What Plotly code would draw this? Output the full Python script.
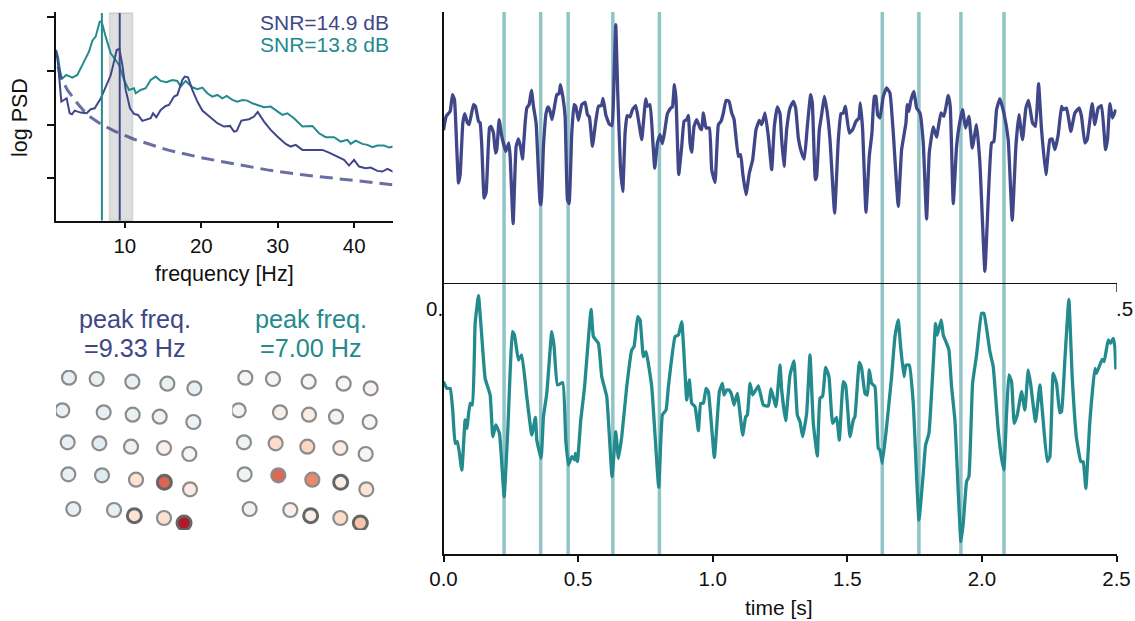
import plotly.graph_objects as go

PURPLE = "#404788"
TEAL = "#238A8D"
FONT = "Liberation Sans"
W, H = 1135, 621

# --- spectra: bin index (DF Hz per bin) and log power in arbitrary units
DF = 1 / 22.94
psd1_bins = [0,6,16,24,32,41,48,56,74,92,104,116,134,146,164,174,182,190,199,209,222,234,246,259,274,284,291,301,314,329,339,354,364,379,386,396,409,424,439,459,484,504,522,534,542,556,579,594,605,624,644,664,689,704,719,739,759,779,799,819,844,864,879,894,909,929,944,964,979,994,1012]
psd1_vals = [385,345,230,235,240,195,192,203,197,195,207,210,239,267,309,350,385,388,340,265,210,193,190,172,177,180,195,183,205,217,220,245,250,295,305,303,265,230,203,185,165,155,157,140,142,173,177,185,199,170,145,125,103,95,100,85,85,83,85,77,65,55,38,55,35,30,32,22,20,28,19]
psd2_bins = [0,6,16,31,49,64,84,99,109,119,131,137,149,164,179,189,204,219,234,239,254,269,284,299,314,331,349,364,374,389,409,424,439,454,469,484,499,512,529,544,559,574,589,604,624,644,659,679,694,714,739,769,789,809,834,854,874,884,899,919,934,949,964,984,999,1012]
psd2_vals = [385,365,297,310,302,310,350,380,413,425,470,470,425,375,355,340,295,265,270,255,265,270,295,305,292,288,295,292,275,292,273,267,272,255,245,250,240,247,235,230,235,233,225,220,213,215,205,190,195,180,155,157,135,123,123,110,115,103,113,103,100,93,98,98,92,95]
fit_bins = [6,16,34,64,94,134,174,234,334,434,534,634,734,834,934,1012]
fit_vals = [335,300,265,225,190,163,142,117,85,62,43,25,11,0,-12,-20]
peak_freqs = [9.33, 7.00]
alpha_band = [8, 11]
freq_ticks = [10, 20, 30, 40]
psd_ticks = [0, 161, 322, 483]

# --- time series: sample index (SFREQ Hz) and amplitude
SFREQ = 808
sig1_n = [0,8,20,27,33,40,45,50,58,64,72,77,90,96,105,110,115,122,128,138,143,150,156,160,167,175,187,196,200,209,218,225,232,237,245,250,257,264,270,278,290,293,300,308,314,320,326,335,340,347,351,358,365,372,377,385,392,397,405,415,425,432,438,447,457,465,474,479,487,497,506,512,517,523,531,538,545,551,560,567,577,585,595,600,607,612,620,628,634,642,650,657,664,672,682,687,693,698,706,715,722,730,735,740,745,752,760,770,775,780,788,798,805,815,825,833,840,848,857,865,872,885,892,898,908,918,928,938,948,955,965,975,985,993,1002,1010,
1015,1022,1030,1040,1050,1057,1065,1075,1083,1092,1102,1107,1116,1120,1128,1135,1143,1152,1160,1174,1185,1193,1200,1206,1218,1228,1238,1247,1251,1258,1268,1278,1286,1293,1298,1303,1310,1320,1330,1340,1350,1365,1375,1388,1392,1397,1402,1412,1420,1430,1440,1450,1458,1470,1480,1493,1502,1515,1521,1530,1540,1550,1558,1567,1577,1587,1600,1610,1625,1635,1645,1652,1660,1670,1682,1695,1707,1718,1727,1738,1748,1756,1768,1777,1786,1795,1808,1820,1827,1835,1845,1855,1860,1870,1883,1895,1908,1915,1925,1932,1947,1955,1965,1975,1987,1993,2000,2008,2018]
sig1_v = [458,500,515,565,550,400,300,325,480,508,480,475,535,530,485,480,410,255,272,465,470,450,390,400,490,440,395,420,380,178,410,432,405,372,480,525,535,578,530,480,240,235,410,510,528,515,490,540,565,568,595,560,500,250,238,450,535,530,488,535,542,505,498,410,485,530,532,554,505,478,472,620,775,570,350,275,450,502,498,520,532,490,430,480,552,530,535,430,345,420,445,418,455,508,525,528,595,550,325,410,485,490,503,420,392,470,490,465,460,510,465,465,340,302,475,485,510,548,545,510,492,380,385,330,265,330,370,460,488,475,510,440,340,470,528,508,
430,350,460,525,545,525,435,390,372,470,565,540,310,320,460,505,560,510,430,210,430,508,510,530,450,460,485,495,540,460,212,380,450,560,560,505,495,560,585,570,450,230,400,480,535,515,545,575,525,510,420,192,390,468,438,510,500,563,530,238,410,485,520,465,500,405,475,360,35,250,420,425,520,553,510,430,188,410,505,430,525,548,480,470,598,460,325,430,432,400,445,530,520,525,455,510,525,500,420,430,538,475,525,532,400,430,538,495,520]

sig2_n = [0,10,20,28,35,42,55,65,70,80,87,95,105,115,125,140,148,157,168,182,193,207,213,225,235,250,265,276,280,293,300,310,325,332,342,358,367,375,385,394,396,402,412,423,443,450,465,475,490,506,517,525,535,550,565,572,583,590,600,608,625,646,657,668,675,695,705,715,725,730,738,745,755,765,772,780,788,795,813,828,837,842,850,857,865,872,882,898,907,912,920,928,945,960,975,983,998,1010,
1015,1027,1040,1052,1062,1070,1078,1090,1100,1110,1122,1130,1138,1147,1157,1168,1180,1188,1200,1207,1220,1230,1235,1248,1255,1265,1272,1278,1285,1295,1305,1310,1317,1330,1345,1355,1365,1372,1382,1388,1398,1410,1427,1440,1447,1457,1470,1477,1482,1494,1500,1510,1517,1525,1535,1553,1560,1570,1577,1588,1600,1615,1622,1640,1650,1665,1675,1682,1690,1697,1705,1713,1722,1735,1745,1755,1762,1777,1790,1798,1812,1820,1830,1840,1850,1855,1865,1877,1887,1900,1913,1920,1928,1940,1955,1960,1977,1983,1995,2002,2010,2015,2018]
sig2_v = [517,497,497,427,332,337,252,402,377,452,447,692,775,652,527,477,352,387,362,172,372,667,657,582,597,472,357,410,342,287,412,482,667,622,507,514,342,267,292,282,302,277,402,497,734,652,632,532,472,232,367,287,352,502,612,622,712,702,592,607,502,200,417,432,502,652,657,697,542,462,522,452,442,370,452,452,497,487,290,487,512,477,492,492,477,447,482,357,412,417,512,477,504,447,444,495,442,567,
492,400,537,579,417,397,352,422,597,392,294,467,474,560,532,392,410,342,517,507,352,402,412,575,557,482,477,552,512,502,317,312,272,382,532,652,702,622,532,567,567,452,102,242,327,362,572,692,657,702,657,632,612,502,402,37,92,217,232,512,597,722,722,607,562,372,287,252,422,537,517,392,417,487,432,552,512,397,507,422,277,292,542,512,424,427,582,764,532,347,277,277,197,397,557,542,584,577,642,632,647,622,554]
peak_times = [0.225, 0.361, 0.463, 0.629, 0.802, 1.630, 1.766, 1.922, 2.082]
time_ticks = [0.0, 0.5, 1.0, 1.5, 2.0, 2.5]

# --- sensor maps
sensor_x = [117,200,307,412,493, 97,221,308,389,490, 113,208,303,402,478, 115,216,318,403,480, 130,252,313,402,462]
sensor_y = [233,237,245,251,265, 331,337,344,350,366, 427,430,440,444,462, 523,526,539,547,568, 627,630,647,654,669]
map1_vals = [-.09,-.08,-.08,-.08,-.09, -.08,-.08,-.08,-.05,-.06, -.08,-.11,-.06,.05,-.01, -.08,-.13,.14,.58,.09, -.08,-.09,.14,.16,.8]
map2_vals = [-.02,-.02,-.01,.01,.03, -.03,.06,.07,.04,-.02, -.05,.19,.22,.07,-.01, -.05,.57,.48,.07,.13, -.04,.05,.07,.19,.29]
hub_sensors = {18, 22, 24}
RDBU = [[0,"#053061"],[.1,"#2166ac"],[.2,"#4393c3"],[.3,"#92c5de"],[.4,"#d1e5f0"],[.5,"#f7f7f7"],[.6,"#fddbc7"],[.7,"#f4a582"],[.8,"#d6604d"],[.9,"#b2182b"],[1,"#67001f"]]

def px_x(p): return p / W
def px_y(p): return 1 - p / H

fig = go.Figure()
freq1 = [b * DF + 1 for b in psd1_bins]
freq2 = [b * DF + 1 for b in psd2_bins]
freqf = [b * DF + 1 for b in fit_bins]
fig.add_trace(go.Scatter(x=freq2, y=psd2_vals, mode="lines", line=dict(color=TEAL, width=2), xaxis="x", yaxis="y"))
fig.add_trace(go.Scatter(x=freq1, y=psd1_vals, mode="lines", line=dict(color=PURPLE, width=2), xaxis="x", yaxis="y"))
fig.add_trace(go.Scatter(x=freqf, y=fit_vals, mode="lines", opacity=.78, line=dict(color=PURPLE, width=3, dash="13px,7px"), xaxis="x", yaxis="y"))
fig.add_trace(go.Scatter(x=[n / SFREQ for n in sig1_n], y=sig1_v, mode="lines", line=dict(color=PURPLE, width=3.3, shape="spline", smoothing=0.35), xaxis="x2", yaxis="y2", cliponaxis=False))
fig.add_trace(go.Scatter(x=[n / SFREQ for n in sig2_n], y=sig2_v, mode="lines", line=dict(color=TEAL, width=3.3, shape="spline", smoothing=0.35), xaxis="x3", yaxis="y3", cliponaxis=False))
for vals, xa, ya in [(map1_vals, "x4", "y4"), (map2_vals, "x5", "y5")]:
    fig.add_trace(go.Scatter(
        x=sensor_x, y=sensor_y, mode="markers", xaxis=xa, yaxis=ya,
        marker=dict(size=14, color=vals, colorscale=RDBU, cmin=-1, cmax=1,
                    line=dict(color=["#666666" if i in hub_sensors else "#8c8c8c" for i in range(25)],
                              width=[3 if i in hub_sensors else 2.2 for i in range(25)]))))

# shading and markers
fig.add_shape(type="rect", xref="x", yref="y domain", x0=alpha_band[0], x1=alpha_band[1], y0=0, y1=.995,
              fillcolor="rgba(128,128,128,.25)", line=dict(color="rgba(128,128,128,.25)", width=1.5), layer="below")
fig.add_shape(type="line", xref="x", yref="y domain", x0=peak_freqs[0], x1=peak_freqs[0], y0=0, y1=.995,
              line=dict(color=PURPLE, width=2))
fig.add_shape(type="line", xref="x", yref="y domain", x0=peak_freqs[1], x1=peak_freqs[1], y0=0, y1=.995,
              line=dict(color=TEAL, width=2))
for t in peak_times:
    fig.add_shape(type="line", xref="x3", yref="paper", x0=t, x1=t, y0=px_y(554), y1=px_y(12),
                  line=dict(color="rgba(35,138,141,.5)", width=3.5), layer="below")

tick = dict(family=FONT, size=20.5, color="#111111")
base = dict(showgrid=False, zeroline=False, automargin=False, showline=True, linecolor="#111111", ticks="outside", tickcolor="#111111", tickfont=tick)
hidden = dict(visible=False, fixedrange=True, automargin=False)
fig.update_layout(
    width=W, height=H, margin=dict(l=0, r=0, t=0, b=0), showlegend=False,
    paper_bgcolor="white", plot_bgcolor="rgba(0,0,0,0)",
    xaxis=dict(base, domain=[px_x(56), px_x(392.5)], range=[1, 45], anchor="y", tickvals=freq_ticks, linewidth=1.5, ticklen=6, tickwidth=1.5),
    yaxis=dict(base, domain=[px_y(220.5), px_y(12)], range=[-127, 499], anchor="x", tickvals=psd_ticks, showticklabels=False, linewidth=1.5, ticklen=7, tickwidth=1.5),
    xaxis2=dict(base, domain=[px_x(443.5), px_x(1116.5)], range=[0, 2.5], anchor="y2", tickvals=[2.5], showticklabels=False, linewidth=1, ticklen=8, tickwidth=1, tickcolor="#555555"),
    yaxis2=dict(base, domain=[px_y(283), px_y(12)], range=[0, 813], anchor="x2", tickvals=[], ticks="", linewidth=1.5),
    xaxis3=dict(base, domain=[px_x(443.5), px_x(1116.5)], range=[0, 2.5], anchor="y3", tickvals=time_ticks, tickformat=".1f", linewidth=1.5, ticklen=6, tickwidth=1.5),
    yaxis3=dict(base, domain=[px_y(554), px_y(283)], range=[0, 813], anchor="x3", tickvals=[], ticks="", linewidth=1.5),
    xaxis4=dict(hidden, domain=[px_x(56), px_x(206.7)], range=[78, 530], anchor="y4"),
    yaxis4=dict(hidden, domain=[px_y(530), px_y(370)], range=[690, 210], anchor="x4"),
    xaxis5=dict(hidden, domain=[px_x(232.3), px_x(383)], range=[78, 530], anchor="y5"),
    yaxis5=dict(hidden, domain=[px_y(530), px_y(370)], range=[690, 210], anchor="x5"),
)

def label(text, x, y, size, color="#111111", xanchor="center", angle=0):
    fig.add_annotation(text=text, xref="paper", yref="paper", x=px_x(x), y=px_y(y), showarrow=False,
                       xanchor=xanchor, yanchor="middle", textangle=angle,
                       font=dict(family=FONT, size=size, color=color))

label("SNR=14.9 dB", 391, 22, 21, PURPLE, "right")
label("SNR=13.8 dB", 391, 45, 21, TEAL, "right")
label("frequency [Hz]", 224, 274, 21.5)
label("log PSD", 20, 118, 21.5, angle=-90)
label("peak freq.", 134.5, 319, 25.2, PURPLE)
label("=9.33 Hz", 134.5, 348, 25.2, PURPLE)
label("peak freq.", 310.5, 319, 25.2, TEAL)
label("=7.00 Hz", 310.5, 348, 25.2, TEAL)
label("time [s]", 779, 607, 21)
label("0.", 445, 308, 20.5, xanchor="right")
label(".5", 1114, 308, 20.5, xanchor="left")

fig.write_html("out.html", config=dict(displayModeBar=False),
               post_script="document.body.style.margin='0';document.body.style.overflow='hidden';")
